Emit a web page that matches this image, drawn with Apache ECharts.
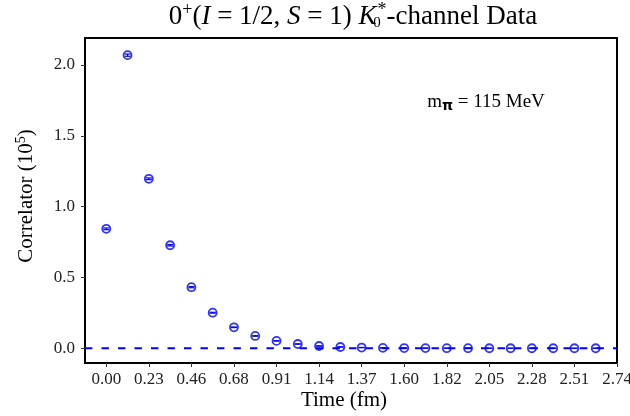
<!DOCTYPE html>
<html><head><meta charset="utf-8">
<script src="https://cdn.jsdelivr.net/npm/echarts@6/dist/echarts.min.js"></script>
<style>html,body{margin:0;padding:0;background:#fff}#c{width:630px;height:416px}</style>
</head><body><div id="c"></div>
<script>
// Time-slice index (lattice spacing 0.114 fm)
const timeSteps = [0,1,2,3,4,5,6,7,8,9,10,11,12,13,14,15,16,17,18,19,20,21,22,23];
const correlator = [0.843,2.069,1.196,0.727,0.431,0.251,0.148,0.087,0.052,0.030,0.016,0.009,0.005,0.003,0.0017,0.001,0.0006,0.0003,0.0002,0.0001,0.00006,0.00004,0.00002,0.00001];
const errors = [0.006,0.008,0.006,0.005,0.004,0.003,0.002,0.002,0.001,0.001,0.001,0.001,0.001,0.001,0.001,0.001,0.001,0.001,0.001,0.001,0.001,0.001,0.001,0.001];
const xTickValues = [0,2,4,6,8,10,12,14,16,18,20,22,24];
const xTickLabels = ['0.00','0.23','0.46','0.68','0.91','1.14','1.37','1.60','1.82','2.05','2.28','2.51','2.74'];
const yTickValues = [0,0.5,1,1.5,2];
const yTickLabels = ['0.0','0.5','1.0','1.5','2.0'];

const SERIF = '"Liberation Serif","DejaVu Serif",serif';
const BLUE = '#0000ff';
const chart = echarts.init(document.getElementById('c'), null, {renderer:'canvas'});

const pts = timeSteps.map((t,i)=>[t, correlator[i]]);
const errData = timeSteps.map((t,i)=>[t, correlator[i]-errors[i], correlator[i]+errors[i]]);

chart.setOption({
  animation:false,
  backgroundColor:'#fff',
  grid:{left:85,right:13,top:38,bottom:53,show:true,borderColor:'#000',borderWidth:2,backgroundColor:'transparent',
    outerBoundsMode:'none',containLabel:false},
  xAxis:{type:'value',min:-1,max:24,
    axisLine:{show:false,onZero:false},
    splitLine:{show:false},
    axisTick:{show:true,inside:false,length:4,lineStyle:{color:'#333',width:1},customValues:xTickValues},
    axisLabel:{show:true,customValues:xTickValues,margin:8,fontFamily:SERIF,fontSize:17,color:'#222',
      formatter:(v)=>{const k=xTickValues.indexOf(Math.round(v));return k>=0?xTickLabels[k]:'';}}
  },
  yAxis:{type:'value',min:-0.104,max:2.19,
    axisLine:{show:false,onZero:false},
    splitLine:{show:false},
    axisTick:{show:true,inside:false,length:4,lineStyle:{color:'#333',width:1},customValues:yTickValues},
    axisLabel:{show:true,customValues:yTickValues,margin:10,fontFamily:SERIF,fontSize:17,color:'#222',
      formatter:(v)=>{for(let k=0;k<yTickValues.length;k++){if(Math.abs(v-yTickValues[k])<1e-6)return yTickLabels[k];}return '';}}
  },
  series:[
    {type:'line',data:[[-1,0],[24,0]],symbol:'none',silent:true,z:1,
      lineStyle:{color:BLUE,width:2,type:[7.4,9.1]}},
    {type:'scatter',data:pts,symbol:'circle',symbolSize:8,z:3,
      itemStyle:{color:'rgba(0,0,0,0)',borderColor:BLUE,borderWidth:1.8}},
    {type:'custom',data:errData,z:4,
      renderItem:function(params,api){
        const x=api.value(0);
        const lo=api.coord([x,api.value(1)]);
        const hi=api.coord([x,api.value(2)]);
        const hw=3;
        const st={stroke:BLUE,lineWidth:1.2};
        return {type:'group',children:[
          {type:'line',shape:{x1:lo[0],y1:lo[1],x2:hi[0],y2:hi[1]},style:st},
          {type:'line',shape:{x1:lo[0]-hw,y1:lo[1],x2:lo[0]+hw,y2:lo[1]},style:st},
          {type:'line',shape:{x1:hi[0]-hw,y1:hi[1],x2:hi[0]+hw,y2:hi[1]},style:st}
        ]};
      }}
  ],
  graphic:[
    {type:'text',x:353,y:17,style:{
      text:'{n|0}{sup|+}{n|(}{i|I}{n| = 1/2, }{i|S}{n| = 1) }{i|K}{sub|0}{sup|*}{n|-channel Data}',
      align:'center',verticalAlign:'middle',
      rich:{
        n:{fontFamily:SERIF,fontSize:27,color:'#000',lineHeight:32},
        i:{fontFamily:SERIF,fontSize:27,fontStyle:'italic',color:'#000',lineHeight:32},
        sup:{fontFamily:SERIF,fontSize:18,color:'#000',lineHeight:32,padding:[0,0,14,0]},
        sub:{fontFamily:SERIF,fontSize:15,color:'#000',lineHeight:32,width:1,padding:[12,0,0,0]}
      }}},
    {type:'text',x:26,y:196,rotation:Math.PI/2,style:{
      text:'{n|Correlator (10}{sup|5}{n|)}',align:'center',verticalAlign:'middle',
      rich:{
        n:{fontFamily:SERIF,fontSize:21,color:'#000',lineHeight:25},
        sup:{fontFamily:SERIF,fontSize:14,color:'#000',lineHeight:25,padding:[0,0,10,0]}
      }}},
    {type:'text',x:344,y:400,style:{text:'Time (fm)',align:'center',verticalAlign:'middle',
      fontFamily:SERIF,fontSize:21,fill:'#000'}},
    {type:'text',x:486,y:102,style:{
      text:'{n|m}{sub|π}{n| = 115 MeV}',align:'center',verticalAlign:'middle',
      rich:{
        n:{fontFamily:SERIF,fontSize:19,color:'#000',lineHeight:24},
        sub:{fontFamily:'"DejaVu Sans",sans-serif',fontSize:14,fontWeight:'bold',color:'#000',lineHeight:24,padding:[9,0,0,0]}
      }}}
  ]
});
</script></body></html>
